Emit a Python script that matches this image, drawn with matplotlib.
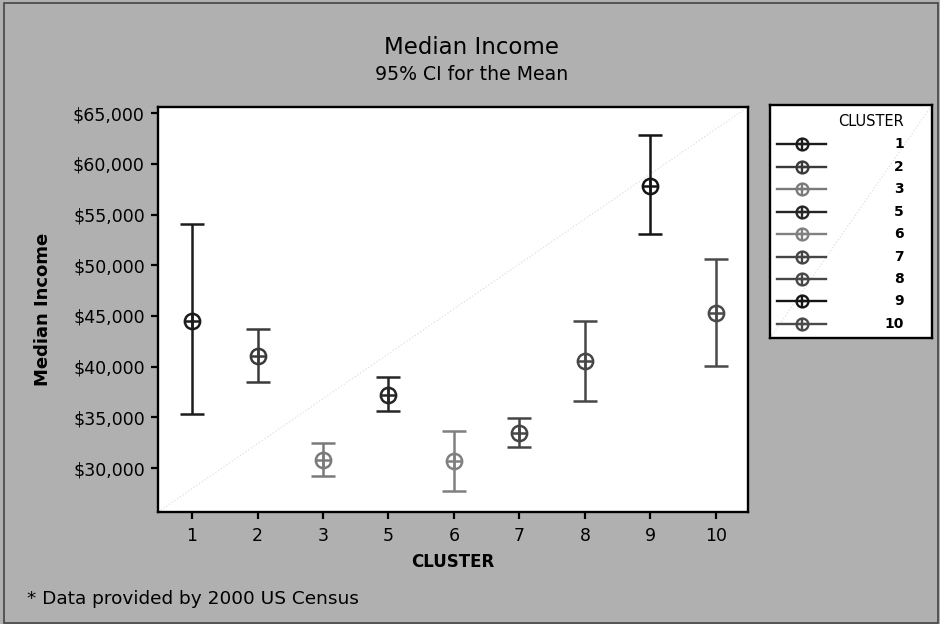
import numpy as np
import matplotlib.pyplot as plt
from matplotlib.patches import Rectangle
from matplotlib.ticker import FuncFormatter

# valores (media e IC 95%)
clusters = ['1', '2', '3', '5', '6', '7', '8', '9', '10']
medias = [44535, 41050, 30790, 37170, 30690, 33480, 40560, 57830, 45325]
ic_inf = [35330, 38490, 29210, 35600, 27730, 32070, 36580, 53060, 40095]
ic_sup = [54050, 43750, 32440, 38950, 33650, 34960, 44535, 62860, 50620]
colores = ['#1c1c1c', '#3a3a3a', '#7a7a7a', '#262626', '#808080',
           '#454545', '#474747', '#141414', '#4a4a4a']

fondo = '#b0b0b0'
plt.rcParams['font.family'] = 'DejaVu Sans'

fig = plt.figure(figsize=(9.4, 6.24), dpi=100)
fig.patch.set_facecolor(fondo)
fig.patches.append(Rectangle((4 / 940, 1 / 624), 934 / 940, 620 / 624, transform=fig.transFigure,
                             fill=False, edgecolor='#444444', linewidth=1.2))

# area principal
ax = fig.add_axes([158 / 940, 112 / 624, 590 / 940, 405 / 624])
ax.set_facecolor('white')
ax.plot([0, 1], [0, 1], transform=ax.transAxes, color='#e0e0e0', ls=':', lw=0.9, zorder=0)

x = np.arange(1, len(clusters) + 1)
for i in range(len(clusters)):
    yerr = [[medias[i] - ic_inf[i]], [ic_sup[i] - medias[i]]]
    ax.errorbar(x[i], medias[i], yerr=yerr, fmt='o', color=colores[i], mfc='none',
                ms=11, mew=1.8, elinewidth=1.8, capsize=8.5, capthick=1.8, zorder=3)
    ax.plot(x[i], medias[i], marker='+', color=colores[i], ms=11, mew=1.8, zorder=4)

ax.set_xlim(0.48, 9.49)
ax.set_ylim(25660, 65620)
ax.set_xticks(x)
ax.set_xticklabels(clusters)
ax.set_yticks(np.arange(30000, 65001, 5000))
ax.yaxis.set_major_formatter(FuncFormatter(lambda v, p: f'${v:,.0f}'))
ax.tick_params(direction='out', length=5, width=1.6, colors='black', labelsize=12.5)
ax.tick_params(axis='x', pad=6)
ax.tick_params(axis='y', pad=4.5)
for s in ax.spines.values():
    s.set_linewidth(1.7)

ax.set_xlabel('CLUSTER', fontsize=12, fontweight='bold')
ax.xaxis.set_label_coords(0.5, -0.123)
ax.xaxis.label.set_va('center')
ax.set_ylabel('Median Income', fontsize=13, fontweight='bold')
ax.yaxis.set_label_coords(-0.195, 0.5)
ax.yaxis.label.set_va('center')

fig.text(472 / 940, 1 - 48 / 624, 'Median Income', ha='center', va='center', fontsize=16.5)
fig.text(472 / 940, 1 - 75 / 624, '95% CI for the Mean', ha='center', va='center', fontsize=13.6)
fig.text(27 / 940, 1 - 599 / 624, '* Data provided by 2000 US Census', ha='left', va='center',
         fontsize=13.3)

# leyenda dibujada a mano
lg = fig.add_axes([770 / 940, (624 - 338) / 624, 162 / 940, 233 / 624])
lg.set_xlim(770, 932)
lg.set_ylim(338, 105)
lg.set_xticks([])
lg.set_yticks([])
lg.set_facecolor('white')
for s in lg.spines.values():
    s.set_linewidth(1.7)
lg.plot([0, 1], [0, 1], transform=lg.transAxes, color='#e0e0e0', ls=':', lw=0.9, zorder=0)
lg.text(904, 122, 'CLUSTER', ha='right', va='center', fontsize=10.5)
for i, c in enumerate(clusters):
    yy = 144.3 + i * 22.45
    lg.plot([777, 826], [yy, yy], color=colores[i], lw=1.7)
    lg.plot(802, yy, marker='o', mfc='none', color=colores[i], ms=8.5, mew=1.7)
    lg.plot(802, yy, marker='+', color=colores[i], ms=8.5, mew=1.7)
    lg.text(904, yy, c, ha='right', va='center', fontsize=10, fontweight='bold')

fig.savefig('out.png', dpi=100, facecolor=fondo)
